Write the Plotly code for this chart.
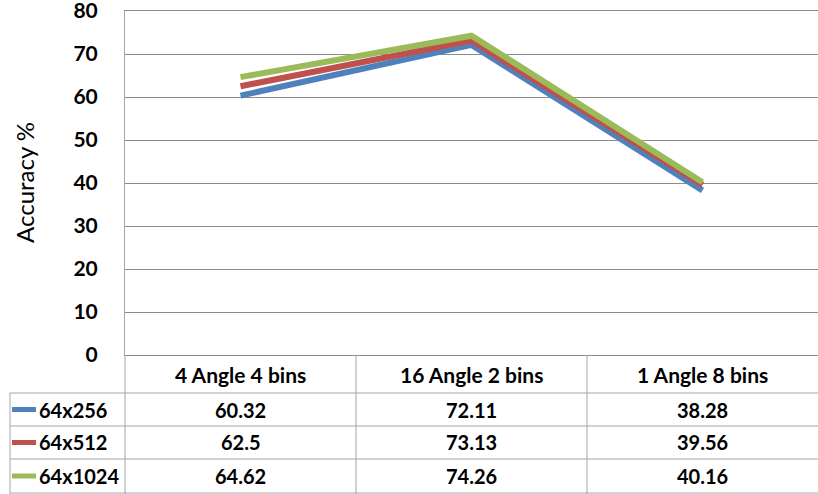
import plotly.graph_objects as go

categories = ["4 Angle 4 bins", "16 Angle 2 bins", "1 Angle 8 bins"]
series_names = ["64x256", "64x512", "64x1024"]
s_64x256 = [60.32, 72.11, 38.28]
s_64x512 = [62.5, 73.13, 39.56]
s_64x1024 = [64.62, 74.26, 40.16]
series_values = [s_64x256, s_64x512, s_64x1024]
colors = ["#4F81BD", "#C0504D", "#9BBB59"]
y_ticks = [0, 10, 20, 30, 40, 50, 60, 70, 80]

W, H = 818, 494
L, R, T, B = 125, 0, 11, 139
pw = W - L - R
ph = H - T - B

def px_x(px):
    return (px - L) / pw

def px_y(py):
    return (H - B - py) / ph

FONT = "Lato"
GRID = "#8C8C8C"
TBL = "#A6A6A6"

fig = go.Figure()
for name, vals, col in zip(series_names, series_values, colors):
    fig.add_trace(go.Scatter(
        x=list(range(len(categories))), y=vals, mode="lines", name=name,
        line=dict(color=col, width=6), cliponaxis=False, showlegend=False))

shapes = []
annotations = []
for py in [393, 426, 459, 493]:
    shapes.append(dict(type="line", xref="paper", yref="paper", x0=px_x(10), x1=1,
                       y0=px_y(py), y1=px_y(py), line=dict(color=TBL, width=1)))
for xv in [0.5, 1.5]:
    shapes.append(dict(type="line", xref="x", yref="paper", x0=xv, x1=xv,
                       y0=0, y1=px_y(494), line=dict(color=TBL, width=1)))
shapes.append(dict(type="line", xref="paper", yref="paper", x0=0, x1=0,
                   y0=0, y1=px_y(494), line=dict(color=TBL, width=1)))
shapes.append(dict(type="line", xref="paper", yref="paper", x0=px_x(10), x1=px_x(10),
                   y0=px_y(393), y1=px_y(494), line=dict(color=TBL, width=1)))

for i, c in enumerate(categories):
    annotations.append(dict(x=i, y=px_y(374), xref="x", yref="paper", text=c,
                            xanchor="center", yanchor="middle", showarrow=False,
                            font=dict(family=FONT, size=21, color="#000000", weight="bold")))
row_centers = [409.5, 442.5, 476]
for r, (name, vals, col) in enumerate(zip(series_names, series_values, colors)):
    yc = px_y(row_centers[r])
    shapes.append(dict(type="line", xref="paper", yref="paper", x0=px_x(12), x1=px_x(36),
                       y0=yc, y1=yc, line=dict(color=col, width=5)))
    annotations.append(dict(x=px_x(37), y=yc, xref="paper", yref="paper", text=name,
                            xanchor="left", yanchor="middle", showarrow=False,
                            font=dict(family=FONT, size=20, color="#000000", weight="bold")))
    for i, v in enumerate(vals):
        annotations.append(dict(x=i, y=yc, xref="x", yref="paper", text=str(v),
                                xanchor="center", yanchor="middle", showarrow=False,
                                font=dict(family=FONT, size=20, color="#000000", weight="bold")))

annotations.append(dict(x=px_x(24), y=px_y(183), xref="paper", yref="paper", text="Accuracy %",
                        textangle=-90, xanchor="center", yanchor="middle", showarrow=False,
                        font=dict(family=FONT, size=24, color="#000000")))

fig.update_layout(
    width=W, height=H, margin=dict(l=L, r=R, t=T, b=B, autoexpand=False),
    paper_bgcolor="white", plot_bgcolor="white",
    xaxis=dict(range=[-0.5, 2.5], showticklabels=False, showgrid=False, zeroline=False,
               showline=True, mirror=True, linecolor=GRID, linewidth=1,
               fixedrange=True, automargin=False),
    yaxis=dict(range=[0, 80], tickvals=y_ticks, showgrid=True, gridcolor=GRID, gridwidth=1,
               zeroline=False, showline=True, linecolor=TBL, linewidth=1,
               ticklabelstandoff=22, automargin=False, fixedrange=True,
               ticklabeloverflow="allow",
               tickfont=dict(family=FONT, size=21, color="#000000", weight="bold")),
    shapes=shapes, annotations=annotations,
)
fig.write_html("out.html", config={"displayModeBar": False},
               post_script="document.body.style.margin='0';document.body.style.overflow='hidden';")
